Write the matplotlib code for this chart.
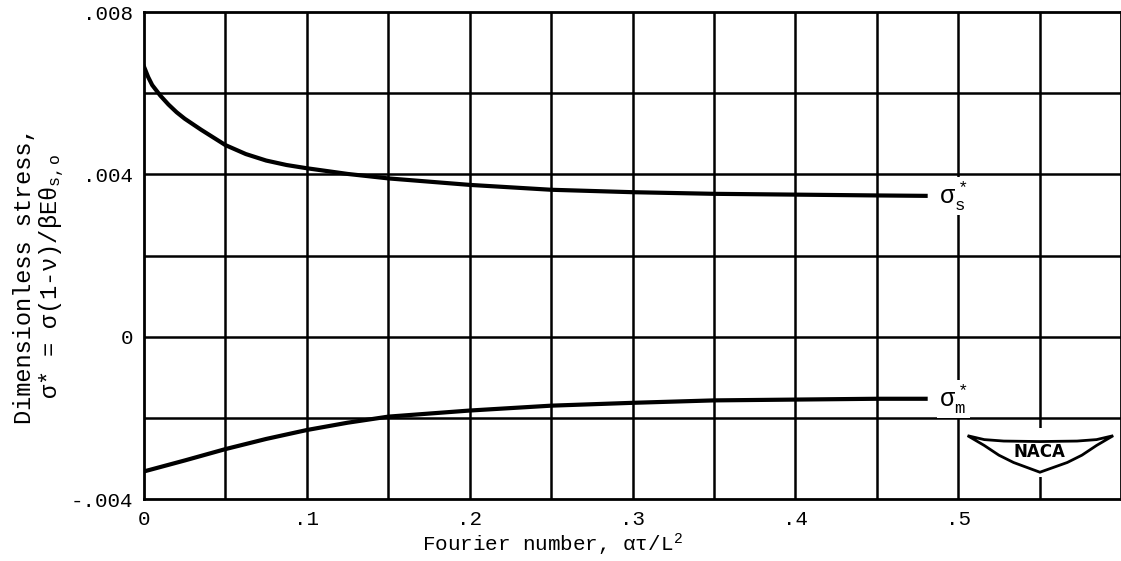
import matplotlib.pyplot as plt
import numpy as np
from matplotlib.patches import Polygon, Rectangle

plt.rcParams['font.family'] = ['Liberation Mono', 'DejaVu Sans Mono']
plt.rcParams['mathtext.fontset'] = 'custom'
plt.rcParams['mathtext.rm'] = 'Liberation Mono'
plt.rcParams['mathtext.it'] = 'Liberation Mono'

# Fourier number and dimensionless stresses
fourier = [0, 0.0025, 0.005, 0.01, 0.015, 0.02, 0.025, 0.035, 0.05, 0.0625,
           0.075, 0.0875, 0.1, 0.125, 0.15, 0.2, 0.25, 0.3, 0.35, 0.4, 0.45,
           0.48]
sigma_s = [0.00665, 0.0064, 0.0062, 0.00594, 0.00572, 0.00553, 0.00537,
           0.0051, 0.00472, 0.0045, 0.00434, 0.00423, 0.00415, 0.00401,
           0.0039, 0.00374, 0.00362, 0.00356, 0.00352, 0.0035, 0.00348,
           0.00347]
fourier_m = [0, 0.025, 0.05, 0.075, 0.1, 0.125, 0.15, 0.2, 0.25, 0.3, 0.35,
             0.4, 0.45, 0.48]
sigma_m = [-0.00332, -0.00305, -0.00277, -0.00252, -0.0023, -0.00212,
           -0.00197, -0.00182, -0.0017, -0.00163, -0.00157, -0.00155,
           -0.00153, -0.00153]

xticks = [0, 0.1, 0.2, 0.3, 0.4, 0.5]
xticklabels = ['0', '.1', '.2', '.3', '.4', '.5']
yticks = [-0.004, 0, 0.004, 0.008]
yticklabels = ['-.004', '0', '.004', '.008']

fig = plt.figure(figsize=(11.21, 5.61), dpi=100)
ax = fig.add_axes([0.1285, 0.1105, 0.8715, 0.8681])

ax.set_xlim(0, 0.6)
ax.set_ylim(-0.004, 0.008)

# grid every .05 and .002
for gx in np.arange(0.05, 0.6, 0.05):
    ax.axvline(gx, color='black', lw=1.8, zorder=1)
for gy in np.arange(-0.002, 0.008, 0.002):
    ax.axhline(gy, color='black', lw=1.8, zorder=1)

ax.plot(fourier, sigma_s, color='black', lw=3, zorder=3,
        solid_joinstyle='round')
ax.plot(fourier_m, sigma_m, color='black', lw=3, zorder=3,
        solid_joinstyle='round')

box = dict(facecolor='white', edgecolor='none', pad=1.5)
ax.text(0.497, sigma_s[-1], r'$\sigma^*_s$', fontsize=18, ha='center',
        va='center', bbox=box, zorder=4)
ax.text(0.497, sigma_m[-1], r'$\sigma^*_m$', fontsize=18, ha='center',
        va='center', bbox=box, zorder=4)

ax.set_xticks(xticks)
ax.set_xticklabels(xticklabels)
ax.set_yticks(yticks)
ax.set_yticklabels(yticklabels)
ax.tick_params(length=0, labelsize=15, pad=8)
for s in ax.spines.values():
    s.set_linewidth(2)

ax.set_xlabel(r'Fourier number, $\alpha\tau/L^2$', fontsize=15)
ax.xaxis.set_label_coords(0.418, -0.066)
ax.set_ylabel('Dimensionless stress,\n' + r'$\sigma$* = $\sigma$(1-$\nu$)/$\beta E\theta_{s,o}$',
              fontsize=17, linespacing=1.1)
ax.yaxis.set_label_coords(-0.079, 0.458)

# NACA wing emblem
ax.add_patch(Rectangle((0.84, 0.045), 0.155, 0.10, transform=ax.transAxes,
                       facecolor='white', edgecolor='none', zorder=2))
wing = [(0.843, 0.13), (0.86, 0.122), (0.88, 0.119), (0.917, 0.118),
        (0.955, 0.119), (0.975, 0.122), (0.992, 0.13), (0.975, 0.11),
        (0.96, 0.09), (0.945, 0.075), (0.917, 0.055), (0.89, 0.075),
        (0.875, 0.09), (0.86, 0.11)]
ax.add_patch(Polygon(wing, closed=True, transform=ax.transAxes,
                     facecolor='white', edgecolor='black', lw=2, zorder=5))
ax.text(0.917, 0.096, 'NACA', transform=ax.transAxes, fontsize=12,
        fontweight='bold', family='DejaVu Sans', ha='center', va='center',
        zorder=6)

fig.savefig('out.png', dpi=100)
